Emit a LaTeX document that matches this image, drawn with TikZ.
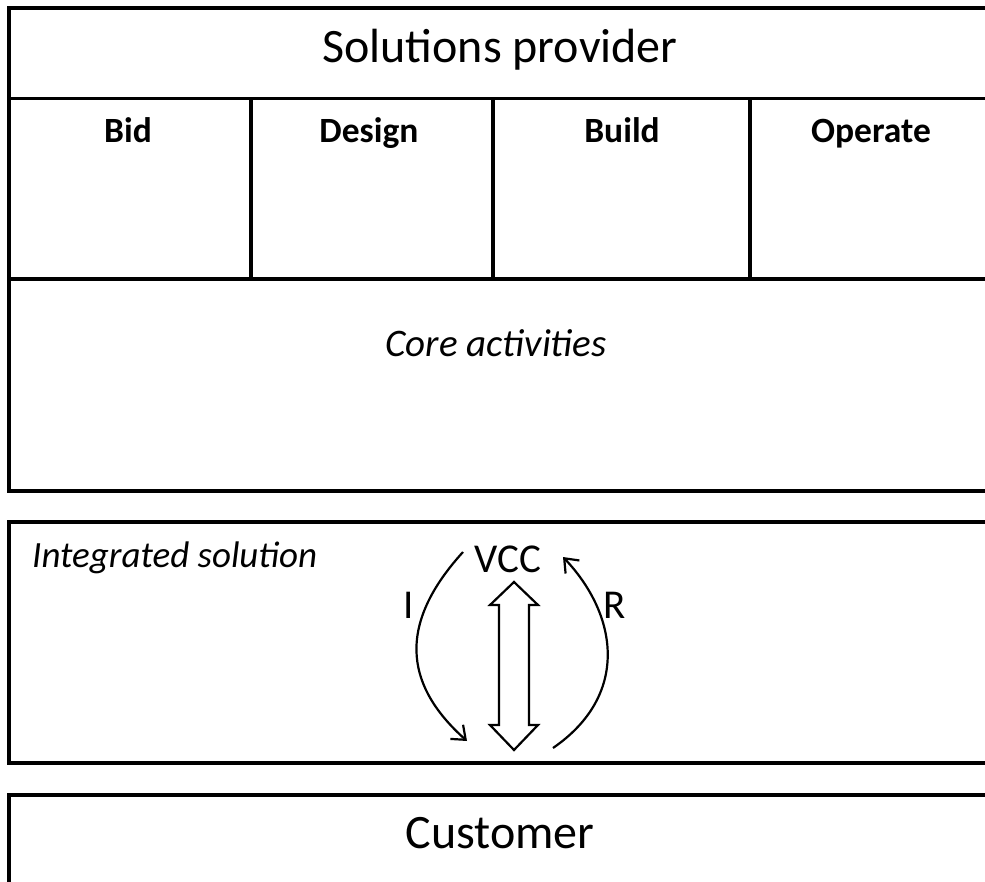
\documentclass[tikz,border=0pt]{standalone}
\usepackage{fontspec}
\setmainfont{Carlito}
\usetikzlibrary{arrows.meta}
\tikzset{
  frame/.style={line width=3.6pt, draw=black},
  curvearrow/.style={line width=2.2pt, -{Straight Barb[length=12pt,width=19pt,line width=2.2pt]}},
  hollow/.style={line width=2.2pt, draw=black, fill=white, line join=miter},
  lbl/.style={inner sep=0pt, anchor=base},
}
\begin{document}
\begin{tikzpicture}[x=1pt,y=-1pt]
\useasboundingbox (0,0) rectangle (985,882);
\begin{scope}
\clip (0,0) rectangle (985,882);
% top box
\draw[frame] (995,8) -- (9,8) -- (9,491) -- (995,491);
\draw[frame] (9,98.5) -- (995,98.5);
\draw[frame] (9,279) -- (995,279);
\draw[frame] (251,98.5) -- (251,279);
\draw[frame] (493,98.5) -- (493,279);
\draw[frame] (750,98.5) -- (750,279);
% middle box
\draw[frame] (995,522) -- (9,522) -- (9,763) -- (995,763);
% bottom box
\draw[frame] (995,795) -- (9,795) -- (9,895);
\end{scope}

\node[lbl] (sp) at (500,63) {\fontsize{48}{56}\selectfont Solutions provider};
\node[lbl] (bid) at (128,143) {\fontsize{35.5}{42}\selectfont\bfseries Bid};
\node[lbl] (design) at (369,143) {\fontsize{35.5}{42}\selectfont\bfseries Design};
\node[lbl] (build) at (622,143) {\fontsize{35.5}{42}\selectfont\bfseries Build};
\node[lbl] (operate) at (871,143) {\fontsize{35.5}{42}\selectfont\bfseries Operate};
\node[lbl] (core) at (496,357) {\fontsize{39}{46}\selectfont\itshape Core activities};
\node[lbl, anchor=base west] (integ) at (32,567) {\fontsize{37}{44}\selectfont\itshape Integrated solution};
\node[lbl] (vcc) at (508,572) {\fontsize{41}{48}\selectfont VCC};
\node[lbl] (i) at (409,618) {\fontsize{41}{48}\selectfont I};
\node[lbl] (r) at (615,618) {\fontsize{41}{48}\selectfont R};
\node[lbl] (cust) at (500,848) {\fontsize{48}{56}\selectfont Customer};

\coordinate (istart) at (463,552);
\coordinate (iend) at (467,741);
\coordinate (rstart) at (553,748);
\coordinate (rend) at (563,557);
\draw[curvearrow] (istart) .. controls (392,630) and (410,690) .. (iend);
\draw[curvearrow] (rstart) .. controls (630,695) and (618,615) .. (rend);

% hollow double arrow
\draw[hollow] (514,582) -- (538,605) -- (529,605) -- (529,725) -- (538,725) -- (514,750)
  -- (490,725) -- (499,725) -- (499,605) -- (490,605) -- cycle;
\end{tikzpicture}
\end{document}
